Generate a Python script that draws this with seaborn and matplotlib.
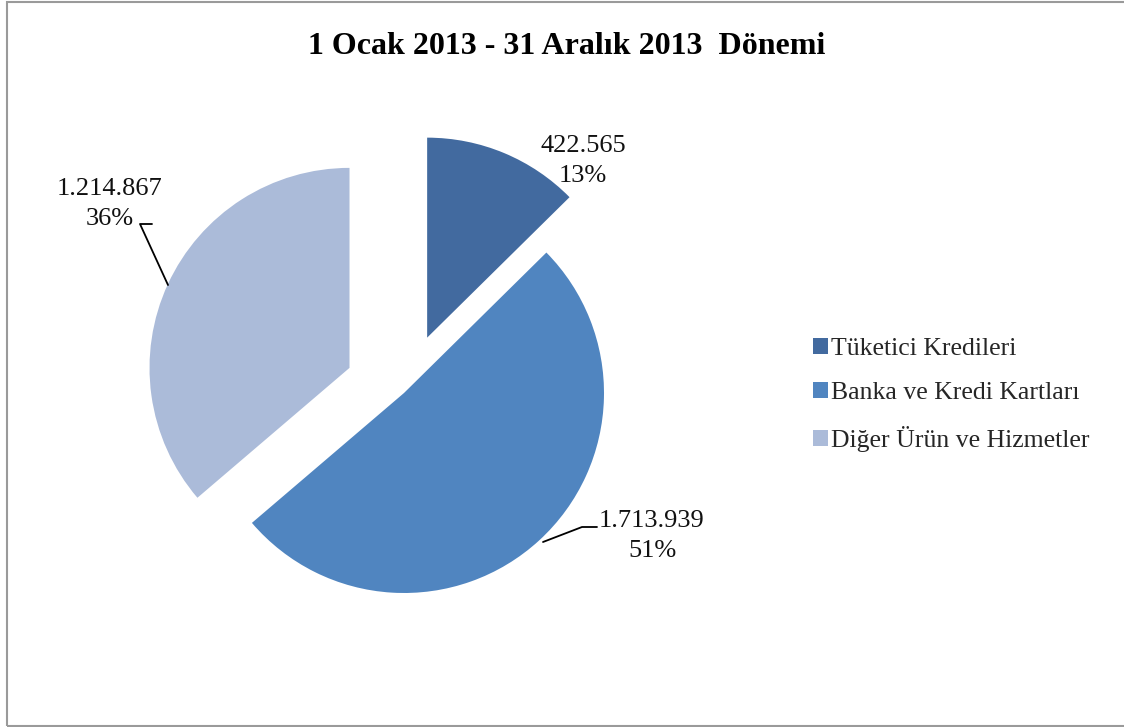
import matplotlib
matplotlib.use("Agg")
import matplotlib.pyplot as plt
from matplotlib.patches import Rectangle
import seaborn as sns

# Data
categories = ["Tüketici Kredileri", "Banka ve Kredi Kartları", "Diğer Ürün ve Hizmetler"]
values = [422565, 1713939, 1214867]
value_labels = ["422.565", "1.713.939", "1.214.867"]
title = "1 Ocak 2013 - 31 Aralık 2013  Dönemi"

sns.set_theme(style="white")
plt.rcParams["font.family"] = ["Liberation Serif", "DejaVu Serif"]

colors = ["#426a9f", "#5085c0", "#abbbd9"]

W, H = 1124, 727
fig = plt.figure(figsize=(W / 100, H / 100), dpi=100)
ax = fig.add_axes([0, 0, 1, 1])


def py(y):
    """Convert a top-down pixel row to the axes' upward y coordinate."""
    return H - y


total = sum(values)
pcts = [round(v / total * 100) for v in values]

R = 200
wedges, _ = ax.pie(
    values,
    colors=colors,
    startangle=90,
    counterclock=False,
    explode=[0.3 * R, 0.0, 0.3 * R],   # offsets are in data units
    radius=R,
    center=(404, py(393)),
    wedgeprops=dict(linewidth=0),
)
ax.set_xlim(0, W)
ax.set_ylim(0, H)
ax.set_aspect("equal")
ax.axis("off")

label_font = dict(fontsize=19, color="#111111", ha="center", va="center",
                  linespacing=1.45)

# Value / percentage labels
label_pos = [(583, 161), (652, 536), (110, 204)]
for (x, y), vl, p in zip(label_pos, value_labels, pcts):
    ax.text(x, py(y), f"{vl}\n{p}%", **label_font)

# Leader lines
ax.plot([152, 140, 168], [py(224), py(224), py(285)], color="black", lw=1.3)
ax.plot([597, 582, 543], [py(527), py(527), py(542)], color="black", lw=1.3)

# Title
fig.text(567 / W, 1 - 46 / H, title, ha="center", va="center",
         fontsize=23, fontweight="bold", color="black")

# Legend
ax.legend(
    wedges, categories,
    loc="upper left",
    bbox_to_anchor=(813, py(338)),
    bbox_transform=ax.transData,
    frameon=False,
    fontsize=18.5,
    handlelength=0.58,
    handleheight=0.58,
    handletextpad=0.12,
    labelspacing=0.85,
    borderpad=0,
    borderaxespad=0,
)

# Chart area border
fig.patches.append(Rectangle((7 / W, 1 / H), 1.2, 1 - 3 / H,
                             transform=fig.transFigure, fill=False,
                             edgecolor="#9a9a9a", linewidth=1.5))

fig.savefig("out.png", dpi=100, facecolor="white")
